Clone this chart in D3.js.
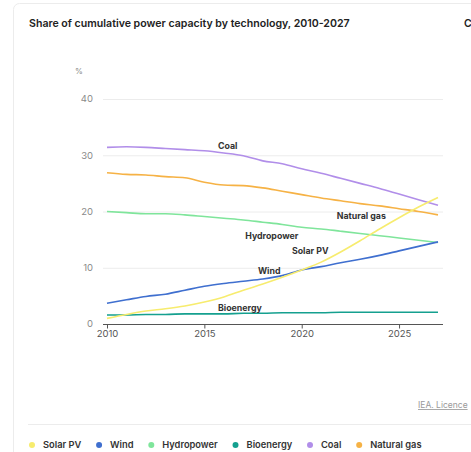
<!DOCTYPE html>
<html>
<head>
<meta charset="utf-8">
<script src="https://cdn.jsdelivr.net/npm/d3@7"></script>
<style>
  body { margin: 0; background: #fff; font-family: Inter, "Open Sans", sans-serif; }
</style>
</head>
<body>
<div id="chart"></div>
<script>
var years = d3.range(2010, 2028);
var seriesNames = ["Solar PV", "Wind", "Hydropower", "Bioenergy", "Coal", "Natural gas"];
var seriesColors = ["#f7ec6e", "#3f6fcf", "#7fe59b", "#15a08f", "#b18ee9", "#f6b245"];

var solarPV = [1.0, 1.7, 2.3, 2.7, 3.2, 3.9, 4.8, 6.0, 7.1, 8.3, 9.6, 11.0, 12.8, 14.8, 16.9, 18.9, 20.8, 22.5];
var wind = [3.7, 4.3, 4.9, 5.3, 6.0, 6.7, 7.2, 7.6, 8.0, 8.6, 9.6, 10.2, 10.9, 11.5, 12.2, 13.0, 13.8, 14.6];
var hydropower = [20.0, 19.8, 19.6, 19.6, 19.4, 19.1, 18.8, 18.5, 18.1, 17.7, 17.2, 16.9, 16.5, 16.1, 15.7, 15.3, 14.9, 14.5];
var bioenergy = [1.6, 1.6, 1.7, 1.7, 1.8, 1.8, 1.8, 1.9, 1.9, 2.0, 2.0, 2.0, 2.1, 2.1, 2.1, 2.1, 2.1, 2.1];
var coal = [31.4, 31.5, 31.4, 31.2, 31.0, 30.8, 30.4, 29.9, 29.0, 28.5, 27.6, 26.8, 25.9, 25.0, 24.1, 23.1, 22.1, 21.1];
var naturalGas = [26.9, 26.6, 26.5, 26.2, 26.0, 25.2, 24.7, 24.6, 24.2, 23.6, 23.0, 22.4, 21.9, 21.4, 21.0, 20.5, 20.0, 19.4];

var yTicks = [0, 10, 20, 30, 40];
var xTicks = [2010, 2015, 2020, 2025];
// inline label per series: [year, value] where the name starts
var labelAt = [[2019.5, 13.0], [2017.75, 9.4], [2017.1, 15.6], [2015.7, 2.8], [2015.7, 31.6], [2021.8, 19.2]];

var allValues = [solarPV, wind, hydropower, bioenergy, coal, naturalGas];
var series = seriesNames.map(function (name, i) {
  return { name: name, color: seriesColors[i], values: allValues[i], label: labelAt[i] };
});

var W = 471, H = 452;
var svg = d3.select("#chart").append("svg")
  .attr("width", W)
  .attr("height", H);

// card
svg.append("rect")
  .attr("x", 13.5).attr("y", 3.5)
  .attr("width", W + 20).attr("height", H + 20)
  .attr("rx", 6)
  .style("fill", "#fff")
  .style("stroke", "#ececec");

svg.append("text")
  .text("Share of cumulative power capacity by technology, 2010-2027")
  .attr("x", 29).attr("y", 27)
  .style("font-size", "10.6px")
  .style("font-weight", 600)
  .style("fill", "#222");

svg.append("text")
  .text("C")
  .attr("x", 464).attr("y", 27)
  .style("font-size", "10.6px")
  .style("font-weight", 600)
  .style("fill", "#222");

var x = d3.scaleLinear().domain([2010, 2027]).range([107, 438]);
var y = d3.scaleLinear().domain([0, 40]).range([324, 99]);

var plot = svg.append("g");

// gridlines
plot.append("g")
  .selectAll("line")
  .data(yTicks.filter(function (d) { return d > 0; })).enter()
  .append("line")
  .attr("x1", 103).attr("x2", 443)
  .attr("y1", function (d) { return y(d) + 0.5; })
  .attr("y2", function (d) { return y(d) + 0.5; })
  .style("stroke", "#ececec");

plot.append("g")
  .selectAll("text")
  .data(yTicks).enter()
  .append("text")
  .text(function (d) { return d; })
  .attr("x", 93)
  .attr("y", function (d) { return y(d); })
  .attr("dy", "0.35em")
  .style("text-anchor", "end")
  .style("font-size", "9.5px")
  .style("fill", "#8a8a8a");

svg.append("text")
  .text("%")
  .attr("x", 75).attr("y", 74)
  .style("font-size", "8px")
  .style("fill", "#8a8a8a");

// x axis
var xAxis = d3.axisBottom(x)
  .tickValues(xTicks)
  .tickFormat(d3.format("d"))
  .tickSize(4)
  .tickPadding(2);

var xg = plot.append("g")
  .attr("transform", "translate(0," + (y(0) + 0.5) + ")")
  .call(xAxis);
xg.select(".domain").attr("d", "M103,0H443").style("stroke", "#555");
xg.selectAll(".tick line").style("stroke", "#555");
xg.selectAll(".tick text")
  .style("font-size", "9.5px")
  .style("font-family", "Inter, sans-serif")
  .style("fill", "#555");

// lines
var line = d3.line()
  .x(function (d, i) { return x(years[i]); })
  .y(function (d) { return y(d); })
  .curve(d3.curveMonotoneX);

var drawOrder = [3, 2, 4, 5, 1, 0];
plot.append("g")
  .selectAll("path")
  .data(drawOrder.map(function (i) { return series[i]; })).enter()
  .append("path")
  .attr("d", function (d) { return line(d.values); })
  .style("fill", "none")
  .style("stroke", function (d) { return d.color; })
  .style("stroke-width", 1.6);

// inline labels
plot.append("g")
  .selectAll("text")
  .data(series).enter()
  .append("text")
  .text(function (d) { return d.name; })
  .attr("x", function (d) { return x(d.label[0]); })
  .attr("y", function (d) { return y(d.label[1]); })
  .attr("dy", "0.35em")
  .style("font-size", "8.8px")
  .style("font-weight", 700)
  .style("fill", "#333");

// source link + separator
svg.append("text")
  .text("IEA. Licence")
  .attr("x", 418).attr("y", 408)
  .style("font-size", "8.5px")
  .style("fill", "#9a9a9a")
  .style("text-decoration", "underline");

svg.append("line")
  .attr("x1", 28).attr("x2", W)
  .attr("y1", 424.5).attr("y2", 424.5)
  .style("stroke", "#ececec");

// legend
var legend = svg.append("g").attr("transform", "translate(32,445)");
var lx = 0;
series.forEach(function (s) {
  var item = legend.append("g").attr("transform", "translate(" + lx + ",0)");
  item.append("circle").attr("r", 3).style("fill", s.color);
  var t = item.append("text")
    .text(s.name)
    .attr("x", 11)
    .attr("dy", "0.35em")
    .style("font-size", "9.3px")
    .style("font-weight", 600)
    .style("fill", "#333");
  lx += 11 + t.node().getComputedTextLength() + 17.8;
});
</script>
</body>
</html>
